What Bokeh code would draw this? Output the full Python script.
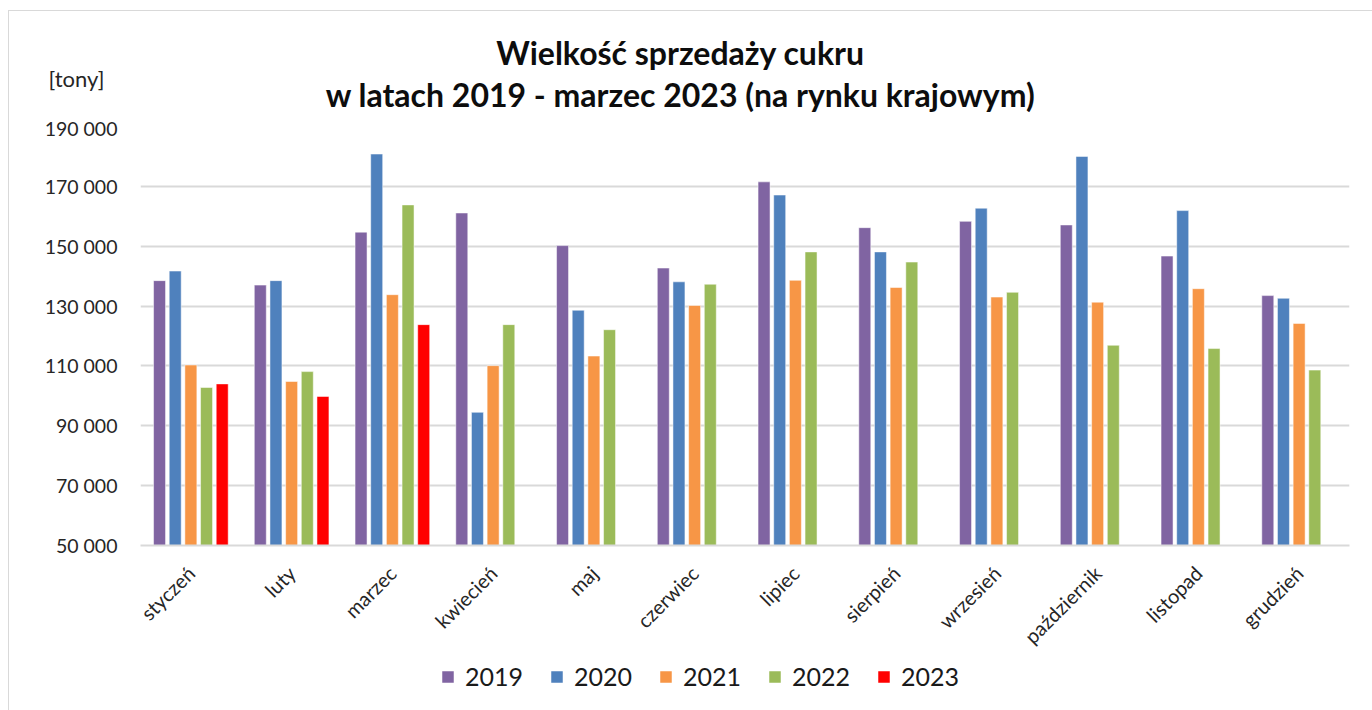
from bokeh.plotting import figure
from bokeh.models import ColumnDataSource, FactorRange, FixedTicker, Label, Legend, LegendItem, Range1d
from bokeh.layouts import column
from bokeh.transform import dodge
from bokeh.embed import file_html
from bokeh.resources import INLINE
import math

months = ["styczeń", "luty", "marzec", "kwiecień", "maj", "czerwiec", "lipiec",
          "sierpień", "wrzesień", "październik", "listopad", "grudzień"]
years = ["2019", "2020", "2021", "2022", "2023"]
v2019 = [138500, 137000, 154700, 161100, 150200, 142700, 171500, 156200, 158300, 157100, 146700, 133500]
v2020 = [141700, 138500, 180800, 94500, 128600, 138100, 167100, 148100, 162700, 180000, 161900, 132600]
v2021 = [110300, 104800, 133800, 110100, 113300, 130200, 138600, 136200, 133000, 131300, 135800, 124200]
v2022 = [102800, 108100, 163800, 123800, 122100, 137300, 148100, 144700, 134600, 116900, 115800, 108600]
v2023 = [104000, 99800, 123800]
colors = ["#8064A2", "#4F81BD", "#F79646", "#9BBB59", "#FF0000"]
tick_values = [50000, 70000, 90000, 110000, 130000, 150000, 170000, 190000]
tick_labels = ["50 000", "70 000", "90 000", "110 000", "130 000", "150 000", "170 000", "190 000"]
title_lines = ["Wielkość sprzedaży cukru", "w latach 2019 - marzec 2023 (na rynku krajowym)"]
unit_label = "[tony]"

FONT = "Lato"
W = 1363

# ---- header (title + unit) ----
ph = figure(width=W, height=105, output_backend="svg", toolbar_location=None,
            x_range=Range1d(0, W), y_range=Range1d(0, 105),
            x_axis_location=None, y_axis_location=None, frame_align=False,
            min_border_left=0, min_border_right=0, min_border_top=0, min_border_bottom=0)
ph.outline_line_color = None
ph.xgrid.visible = False
ph.ygrid.visible = False
ph.add_layout(Label(x=671, y=64, x_units="screen", y_units="screen", text=title_lines[0],
                    text_align="center", text_baseline="alphabetic", text_font=FONT,
                    text_font_style="bold", text_font_size="32px", text_color="#0d0d0d"))
ph.add_layout(Label(x=671, y=22, x_units="screen", y_units="screen", text=title_lines[1],
                    text_align="center", text_baseline="alphabetic", text_font=FONT,
                    text_font_style="bold", text_font_size="32px", text_color="#0d0d0d"))
ph.add_layout(Label(x=39, y=38, x_units="screen", y_units="screen", text=unit_label,
                    text_align="left", text_baseline="middle", text_font=FONT,
                    text_font_size="22px", text_color="#262626"))

# ---- main chart ----
p = figure(x_range=FactorRange(factors=months, range_padding=0), y_range=(50000, 190000),
           width=W, height=543, output_backend="svg", toolbar_location=None, frame_align=False,
           min_border_left=131, min_border_right=23, min_border_top=10, min_border_bottom=112)
p.outline_line_color = None

series = [v2019, v2020, v2021, v2022, v2023]
step = 0.1555
bw = 0.119
for i, (yr, vals, col) in enumerate(zip(years, series, colors)):
    src = ColumnDataSource(dict(month=months[:len(vals)], value=vals))
    p.vbar(x=dodge("month", (i - 2) * step, range=p.x_range), top="value", bottom=50000,
           width=bw, source=src, fill_color=col, line_color="white", line_width=1, line_alpha=0.5)

p.yaxis.ticker = FixedTicker(ticks=tick_values)
p.yaxis.major_label_overrides = {v: s for v, s in zip(tick_values, tick_labels)}
p.yaxis.axis_line_color = None
p.yaxis.major_tick_line_color = None
p.yaxis.minor_tick_line_color = None
p.yaxis.major_label_standoff = 17
p.yaxis.major_label_text_font = FONT
p.yaxis.major_label_text_font_size = "19.5px"
p.yaxis.major_label_text_color = "#262626"

p.xaxis.axis_line_color = "#D9D9D9"
p.xaxis.axis_line_width = 2
p.xaxis.major_tick_line_color = None
p.xaxis.minor_tick_line_color = None
p.xaxis.major_label_orientation = math.pi / 4
p.xaxis.major_label_standoff = 18
p.xaxis.major_label_text_font = FONT
p.xaxis.major_label_text_font_size = "20px"
p.xaxis.major_label_text_color = "#262626"

p.xgrid.grid_line_color = None
p.ygrid.grid_line_color = "#D9D9D9"
p.ygrid.grid_line_width = 2

# ---- legend strip (proxy glyphs sit outside the visible range) ----
pl = figure(width=W, height=51, output_backend="svg", toolbar_location=None,
            x_range=Range1d(0, 1), y_range=Range1d(0, 1), frame_align=False,
            x_axis_location=None, y_axis_location=None,
            min_border_left=431, min_border_right=0, min_border_top=2, min_border_bottom=0)
pl.outline_line_color = None
pl.xgrid.visible = False
pl.ygrid.visible = False
proxy = ColumnDataSource(dict(x=[-5], top=[-5]))
items = []
for yr, col in zip(years, colors):
    r = pl.vbar(x="x", top="top", width=0.1, source=proxy, fill_color=col,
                line_color="white", line_alpha=0.5)
    items.append(LegendItem(label=yr, renderers=[r]))
legend = Legend(items=items, orientation="horizontal", location="top_left",
                label_text_font=FONT, label_text_font_size="25px", label_text_color="#1a1a1a",
                glyph_width=15, glyph_height=15, label_standoff=10, spacing=26,
                padding=0, margin=0, border_line_color=None, background_fill_alpha=0)
pl.add_layout(legend, "center")

layout = column(ph, p, pl, spacing=0,
                styles={"border-left": "1px solid #D9D9D9", "border-top": "1px solid #D9D9D9",
                        "margin-left": "8px", "margin-top": "10px"})

open("out.html", "w").write(file_html(layout, INLINE))
